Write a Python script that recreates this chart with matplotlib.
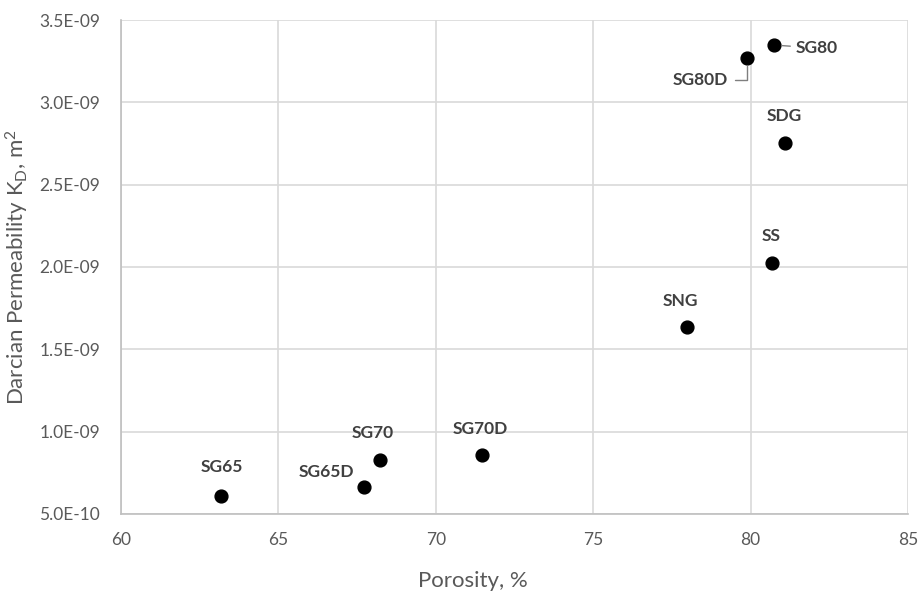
import matplotlib
matplotlib.use("Agg")
import matplotlib.pyplot as plt
from matplotlib.ticker import FuncFormatter, MultipleLocator

plt.rcParams['font.family'] = ['Lato', 'DejaVu Sans']
plt.rcParams['mathtext.fontset'] = 'custom'
plt.rcParams['mathtext.rm'] = 'Lato'
plt.rcParams['mathtext.it'] = 'Lato:italic'

# data
samples = ["SG65", "SG65D", "SG70", "SG70D", "SNG", "SS", "SDG", "SG80D", "SG80"]
porosity = [63.18, 67.72, 68.23, 71.47, 77.98, 80.68, 81.09, 79.89, 80.74]
permeability = [6.10e-10, 6.64e-10, 8.28e-10, 8.58e-10, 1.636e-9, 2.024e-9, 2.753e-9, 3.27e-9, 3.348e-9]

# label offsets in pixels (dx right, dy up) from each point
label_offsets = {
    "SG65": (1, 29), "SG65D": (-38, 15), "SG70": (-7, 27), "SG70D": (-2, 26),
    "SNG": (-7, 26), "SS": (-1, 27), "SDG": (-1, 27),
    "SG80": (43, -3), "SG80D": (-47, -22),
}

fig = plt.figure(figsize=(9.21, 5.92), dpi=100)
ax = fig.add_axes([0.1314, 0.1318, 0.8545, 0.8344])

ax.scatter(porosity, permeability, s=85, color="black", zorder=3)

for name, x, y in zip(samples, porosity, permeability):
    dx, dy = label_offsets[name]
    kw = {}
    if name == "SG80":
        kw = dict(arrowprops=dict(arrowstyle="-", color="#7f7f7f", lw=1,
                                  shrinkA=2, shrinkB=6))
    elif name == "SG80D":
        kw = dict(arrowprops=dict(arrowstyle="-", color="#7f7f7f", lw=1,
                                  shrinkA=3, shrinkB=6,
                                  connectionstyle="angle,angleA=0,angleB=90,rad=0"))
    ax.annotate(name, (x, y), xytext=(dx * 0.72, dy * 0.72), textcoords="offset points",
                ha="center", va="center", fontsize=12.5, fontweight="bold",
                color="#404040", **kw)

ax.set_xlim(60, 85)
ax.set_ylim(5e-10, 3.5e-9)
ax.xaxis.set_major_locator(MultipleLocator(5))
ax.yaxis.set_major_locator(MultipleLocator(5e-10))
ax.yaxis.set_major_formatter(FuncFormatter(lambda v, p: "%.1E" % v))

ax.grid(True, color="#d9d9d9", lw=1.2)
ax.set_axisbelow(True)
for side in ["top", "right"]:
    ax.spines[side].set_visible(False)
for side in ["left", "bottom"]:
    ax.spines[side].set_color("#bfbfbf")
    ax.spines[side].set_linewidth(1.2)
ax.tick_params(length=0, labelsize=12.5, colors="#595959")
ax.tick_params(axis="x", pad=13)
ax.tick_params(axis="y", pad=15)

ax.set_xlabel("Porosity, %", fontsize=16, color="#595959")
ax.xaxis.set_label_coords(0.447, -0.115)
ax.set_ylabel(r"Darcian Permeability K$_\mathrm{D}$, m$^2$", fontsize=16, color="#595959")
ax.yaxis.set_label_coords(-0.114, 0.5)

fig.savefig("out.png", dpi=100)
